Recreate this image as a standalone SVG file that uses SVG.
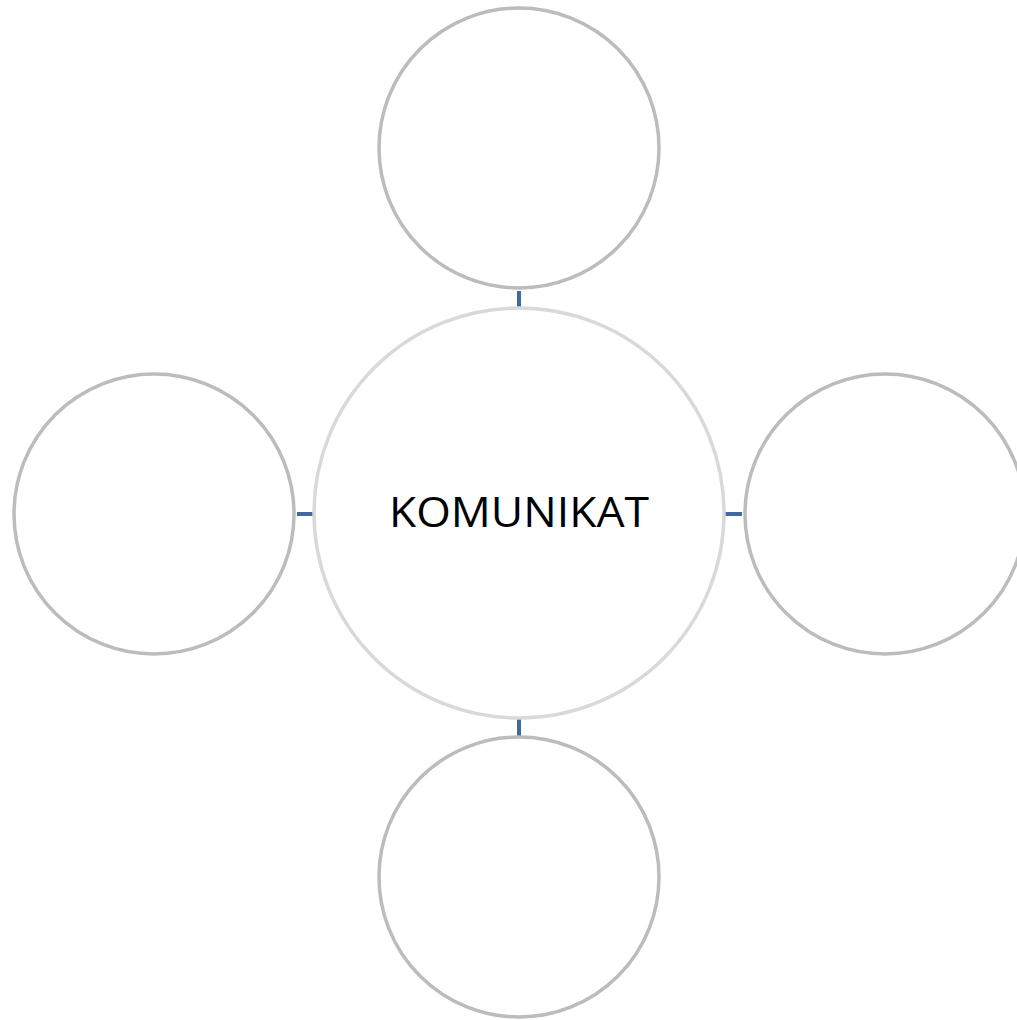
<svg xmlns="http://www.w3.org/2000/svg" width="1017" height="1020" viewBox="0 0 1017 1020">
<style>
.outer{fill:#ffffff;stroke:#bcbcbc;stroke-width:3.5}
.center{fill:#ffffff;stroke:#d9d9d9;stroke-width:3.5}
.conn{stroke:#3f69a0;stroke-width:4;fill:none}
.label{font-family:"Open Sans","Liberation Sans",sans-serif;font-size:42px;fill:#000000}
</style>
<rect width="1017" height="1020" fill="#ffffff"/>
<g id="connectors">
<line class="conn" x1="519" y1="291" x2="519" y2="307"/>
<line class="conn" x1="297" y1="514" x2="313" y2="514"/>
<line class="conn" x1="725" y1="514" x2="742" y2="514"/>
<line class="conn" x1="519" y1="719" x2="519" y2="736"/>
</g>
<g id="node-center">
<circle class="center" cx="519" cy="513" r="205"/>
<text class="label" x="519" y="527" text-anchor="middle" textLength="260" lengthAdjust="spacingAndGlyphs">KOMUNIKAT</text>
</g>
<g id="node-top"><circle class="outer" cx="519" cy="148" r="140"/></g>
<g id="node-left"><circle class="outer" cx="154" cy="514" r="140"/></g>
<g id="node-right"><circle class="outer" cx="885" cy="514" r="140"/></g>
<g id="node-bottom"><circle class="outer" cx="519" cy="877" r="140"/></g>
</svg>
